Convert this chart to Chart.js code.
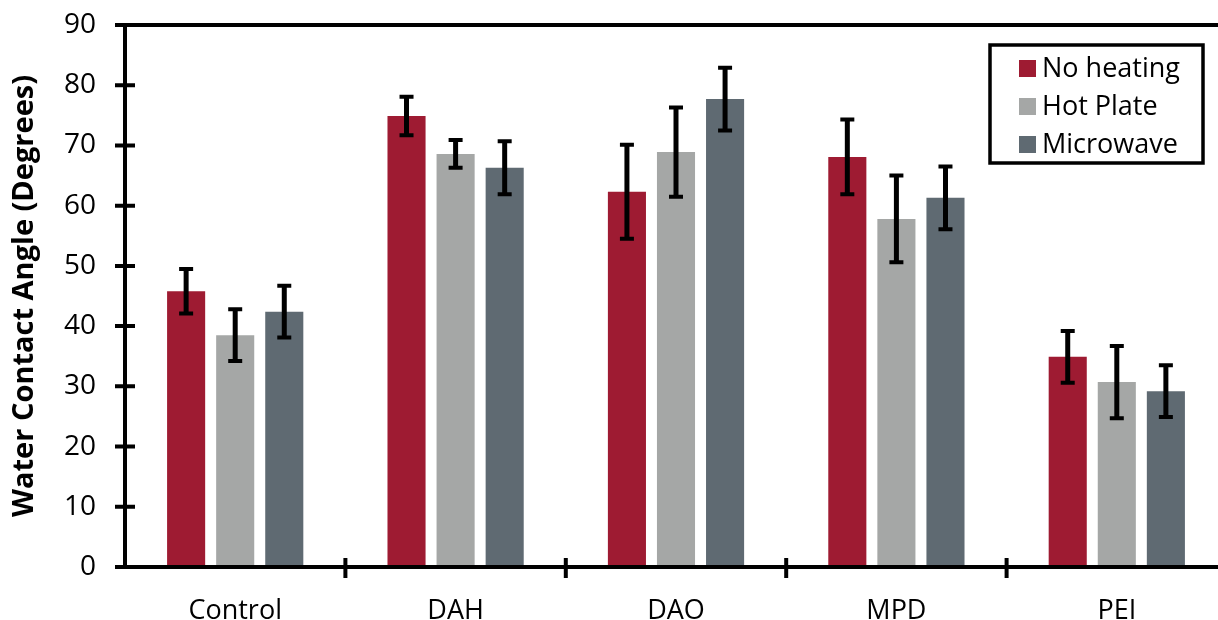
<!DOCTYPE html>
<html>
<head>
<meta charset="utf-8">
<script src="https://cdn.jsdelivr.net/npm/chart.js@4"></script>
<style>
  html, body { margin: 0; padding: 0; background: #fff; overflow: hidden; }
  #wrap { width: 1230px; height: 620px; }
</style>
</head>
<body>
<div id="wrap"><canvas id="wca"></canvas></div>
<script>
const categories = ["Control", "DAH", "DAO", "MPD", "PEI"];
const seriesNames = ["No heating", "Hot Plate", "Microwave"];
const seriesColors = ["#9E1B32", "#A5A7A6", "#5F6A72"];
const noHeating = [45.8, 74.9, 62.3, 68.1, 34.9];
const hotPlate = [38.5, 68.6, 68.9, 57.8, 30.7];
const microwave = [42.4, 66.3, 77.7, 61.3, 29.2];
const noHeatingErr = [3.7, 3.2, 7.8, 6.2, 4.3];
const hotPlateErr = [4.3, 2.3, 7.4, 7.2, 6.0];
const microwaveErr = [4.3, 4.4, 5.2, 5.2, 4.3];
const yTicks = [0, 10, 20, 30, 40, 50, 60, 70, 80, 90];

const values = [noHeating, hotPlate, microwave];
const errors = [noHeatingErr, hotPlateErr, microwaveErr];
const FONT = "'Open Sans', 'Noto Sans', sans-serif";

// error bars, axes with crossing ticks, framed legend
const decorations = {
  id: "decorations",
  afterDatasetsDraw(chart) {
    const ctx = chart.ctx;
    const y = chart.scales.y;
    const x = chart.scales.x;
    const area = chart.chartArea;
    ctx.save();
    ctx.strokeStyle = "#000";
    ctx.lineCap = "butt";

    // error bars
    chart.data.datasets.forEach((ds, i) => {
      chart.getDatasetMeta(i).data.forEach((bar, j) => {
        const top = y.getPixelForValue(ds.data[j] + ds.err[j]);
        const bot = y.getPixelForValue(ds.data[j] - ds.err[j]);
        ctx.lineWidth = 5;
        ctx.beginPath();
        ctx.moveTo(bar.x, top);
        ctx.lineTo(bar.x, bot);
        ctx.stroke();
        ctx.lineWidth = 4;
        ctx.beginPath();
        ctx.moveTo(bar.x - 7, top);
        ctx.lineTo(bar.x + 7, top);
        ctx.moveTo(bar.x - 7, bot);
        ctx.lineTo(bar.x + 7, bot);
        ctx.stroke();
      });
    });

    // axes
    ctx.lineWidth = 4;
    ctx.beginPath();
    ctx.moveTo(area.left, area.top);
    ctx.lineTo(area.left, area.bottom + 2);
    ctx.moveTo(area.left - 10, area.top);
    ctx.lineTo(chart.width, area.top);
    ctx.moveTo(area.left - 10, area.bottom);
    ctx.lineTo(chart.width, area.bottom);
    yTicks.forEach(v => {
      const py = y.getPixelForValue(v);
      ctx.moveTo(area.left - 10, py);
      ctx.lineTo(area.left + 10, py);
    });
    for (let k = 1; k < categories.length; k++) {
      const px = (x.getPixelForValue(k - 1) + x.getPixelForValue(k)) / 2;
      ctx.moveTo(px, area.bottom - 9);
      ctx.lineTo(px, area.bottom + 11);
    }
    ctx.stroke();

    // legend
    const lx = 990, ly = 45, lw = 213, lh = 118;
    ctx.fillStyle = "#fff";
    ctx.fillRect(lx, ly, lw, lh);
    ctx.lineWidth = 3.5;
    ctx.strokeRect(lx, ly, lw, lh);
    ctx.font = "27px " + FONT;
    ctx.textBaseline = "middle";
    seriesNames.forEach((name, i) => {
      const cy = ly + 23 + i * 38;
      ctx.fillStyle = seriesColors[i];
      ctx.fillRect(lx + 29, cy - 8, 17, 17);
      ctx.fillStyle = "#000";
      ctx.fillText(name, lx + 52, cy + 1);
    });
    ctx.restore();
  }
};

new Chart(document.getElementById("wca"), {
  type: "bar",
  data: {
    labels: categories,
    datasets: seriesNames.map((name, i) => ({
      label: name,
      data: values[i],
      err: errors[i],
      backgroundColor: seriesColors[i],
      borderWidth: 0,
      categoryPercentage: 0.668,
      barPercentage: 0.776
    }))
  },
  options: {
    responsive: true,
    maintainAspectRatio: false,
    animation: false,
    layout: { padding: { top: 25, right: 3, left: 0, bottom: 0 } },
    plugins: { legend: { display: false }, tooltip: { enabled: false } },
    scales: {
      x: {
        grid: { display: false },
        border: { display: false },
        ticks: { color: "#000", font: { family: FONT, size: 27 }, padding: 20 },
        afterFit: s => { s.height = 53; s.paddingLeft = 0; s.paddingRight = 0; }
      },
      y: {
        min: 0,
        max: 90,
        afterBuildTicks: s => { s.ticks = yTicks.map(v => ({ value: v })); },
        grid: { display: false },
        border: { display: false },
        ticks: { color: "#000", font: { family: FONT, size: 28 }, padding: 21 },
        title: {
          display: true,
          text: "Water Contact Angle (Degrees)",
          color: "#000",
          font: { family: FONT, size: 29, weight: "bold" },
          padding: { top: 7, bottom: 0 }
        },
        afterFit: s => { s.width = 125; s.paddingTop = 0; s.paddingBottom = 0; }
      }
    }
  },
  plugins: [decorations]
});
</script>
</body>
</html>
